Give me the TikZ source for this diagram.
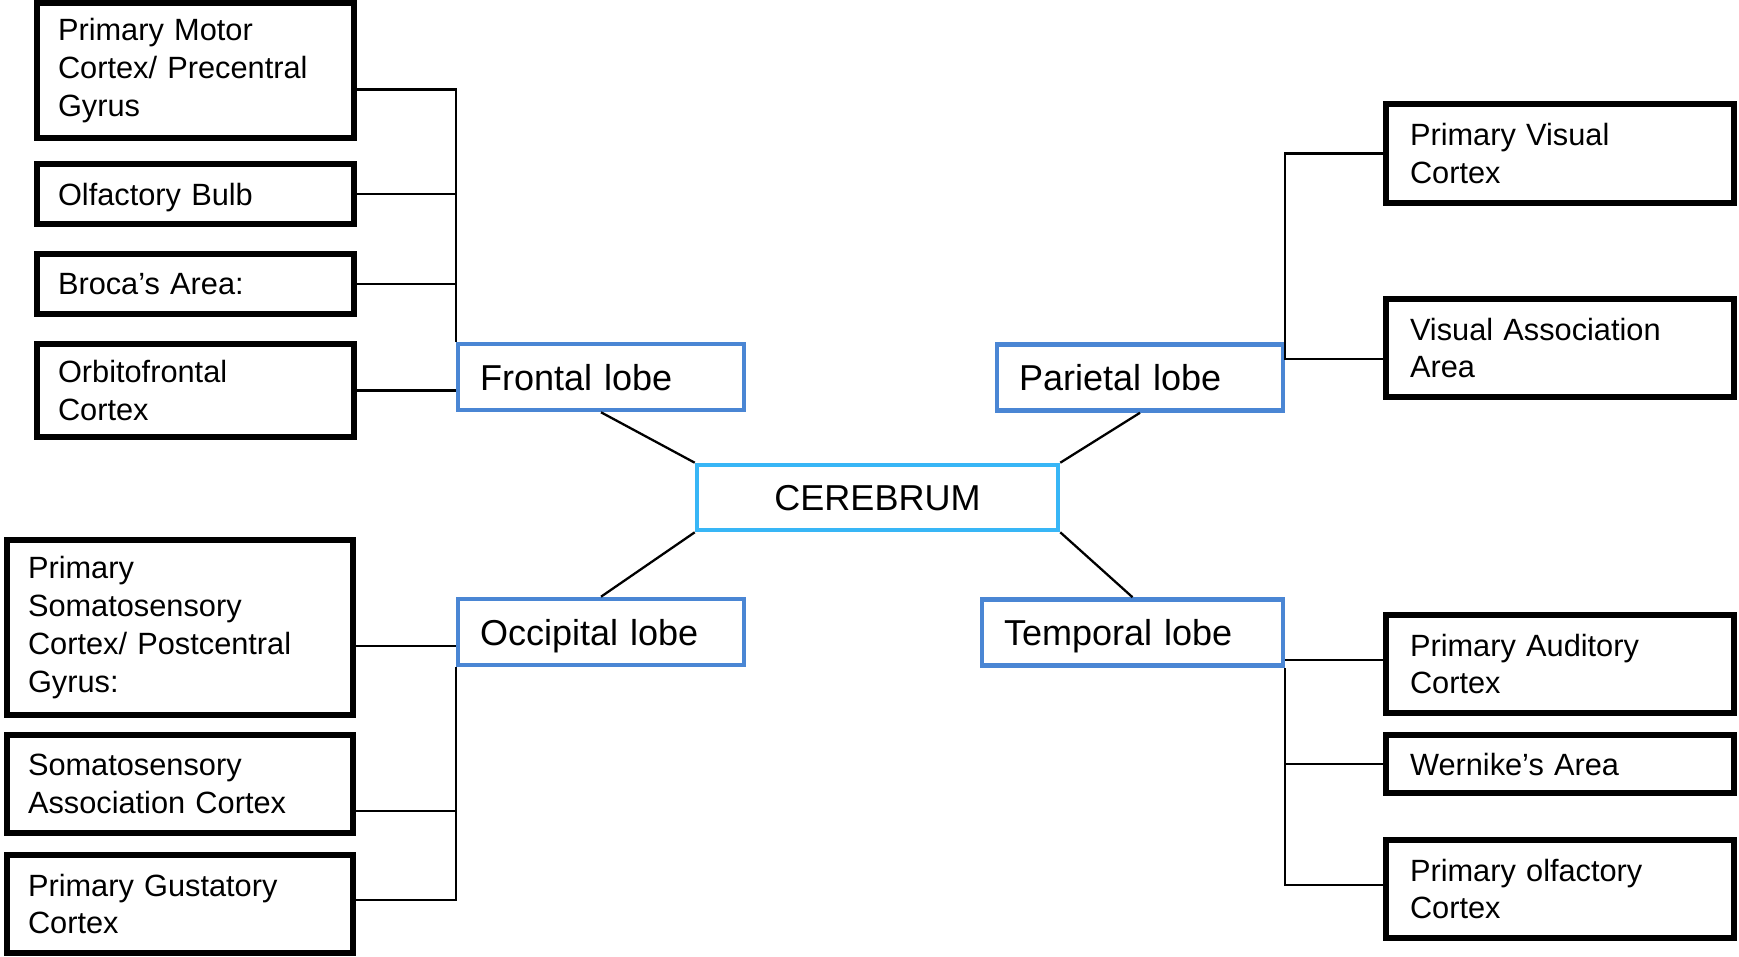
\documentclass[tikz,border=0pt]{standalone}
\usepackage{fontspec}
\setmainfont{Liberation Sans}
\usepackage{tikz}
\usepackage{xcolor}

\definecolor{lobeblue}{HTML}{4A86D4}
\definecolor{cerebblue}{HTML}{38B6F6}

\begin{document}
\begin{tikzpicture}[x=0.02cm, y=-0.02cm,
        area/.style={draw=black, line width=3pt, fill=white, inner xsep=0.42cm, inner ysep=0pt,
            align=left, font=\fontsize{17.5}{21.6}\selectfont},
        lobe/.style={draw=lobeblue, line width=2.6pt, fill=white, inner xsep=0.44cm, inner ysep=0pt,
            text depth=0pt, text width=4.84cm, minimum height=1.32cm, align=left,
            font=\fontsize{20.5}{24}\selectfont},
        hub/.style={draw=cerebblue, line width=2.6pt, fill=white, minimum width=7.22cm,
            text depth=0pt, minimum height=1.3cm, font=\fontsize{20.5}{24}\selectfont},
        link/.style={black, line width=1.3pt}]

        \useasboundingbox (0,0) rectangle (1739,957);

        % 1. the central node
        \node[hub] (cerebrum) at (877.5,497.5) {CEREBRUM};

        % 2. the four lobes
        \node[lobe] (frontal)   at (601,377)    {Frontal lobe};
        \node[lobe] (parietal)  at (1140,377.5) {Parietal lobe};
        \node[lobe] (occipital) at (601,632)    {Occipital lobe};
        \node[lobe, text width=5.14cm] (temporal) at (1132.5,632.5) {Temporal lobe};

        % 3. areas of the frontal lobe
        \node[area, text width=5.5cm, minimum height=2.7cm]  (motor)   at (195.5,70.5)  {Primary Motor\\Cortex/ Precentral\\Gyrus};
        \node[area, text width=5.5cm, minimum height=1.2cm, text depth=0pt] (olfbulb) at (195.5,194) {Olfactory Bulb};
        \node[area, text width=5.5cm, minimum height=1.2cm, text depth=0pt] (broca)   at (195.5,284) {Broca’s Area:};
        \node[area, text width=5.5cm, minimum height=1.86cm] (orbito)  at (195.5,390.5) {Orbitofrontal\\Cortex};

        % 4. areas of the occipital lobe
        \node[area, text width=6.08cm, minimum height=3.5cm]  (somato)    at (180,627.5) {Primary\\Somatosensory\\Cortex/ Postcentral\\Gyrus:};
        \node[area, text width=6.08cm, minimum height=1.96cm] (somassoc)  at (180,784)   {Somatosensory\\Association Cortex};
        \node[area, text width=6.08cm, minimum height=1.96cm] (gustatory) at (180,904)   {Primary Gustatory\\Cortex};

        % 5. areas of the parietal and temporal lobes
        \node[area, inner xsep=0.48cm, text width=6cm, minimum height=1.98cm] (pvisual)    at (1560,153.5) {Primary Visual\\Cortex};
        \node[area, inner xsep=0.48cm, text width=6cm, minimum height=1.96cm] (vassoc)     at (1560,348)   {Visual Association\\Area};
        \node[area, inner xsep=0.48cm, text width=6cm, minimum height=1.96cm] (auditory)   at (1560,664)   {Primary Auditory\\Cortex};
        \node[area, inner xsep=0.48cm, text width=6cm, minimum height=1.16cm, text depth=0pt] (wernike) at (1560,764) {Wernike’s Area};
        \node[area, inner xsep=0.48cm, text width=6cm, minimum height=1.96cm] (polfactory) at (1560,889)   {Primary olfactory\\Cortex};

        % 6. brackets from the areas to their lobe
        \draw[link] ([yshift=-0.38cm]motor.east) -| (frontal.north west);
        \foreach \n in {olfbulb, broca, orbito}
            \draw[link] (\n.east) -- (\n.east -| frontal.west);

        \draw[link] (pvisual.west) -| (parietal.north east);
        \draw[link] ([yshift=-0.22cm]vassoc.west) -| (parietal.north east);

        \draw[link] ([yshift=-0.37cm]somato.east) -- ([yshift=-0.37cm]somato.east -| occipital.west);
        \draw[link] ([yshift=-0.54cm]somassoc.east) -| (occipital.south west);
        \draw[link] ([yshift=0.08cm]gustatory.east) -| (occipital.south west);

        \draw[link] ([yshift=0.08cm]auditory.west) -- ([yshift=0.08cm]auditory.west -| temporal.east);
        \draw[link] (wernike.west) -| (temporal.south east);
        \draw[link] ([yshift=0.08cm]polfactory.west) -| (temporal.south east);

        % 7. lobes to the centre
        \draw[link] (frontal.south)   -- (cerebrum.north west);
        \draw[link] (parietal.south)  -- (cerebrum.north east);
        \draw[link] (occipital.north) -- (cerebrum.south west);
        \draw[link] (temporal.north)  -- (cerebrum.south east);

    \end{tikzpicture}
\end{document}
